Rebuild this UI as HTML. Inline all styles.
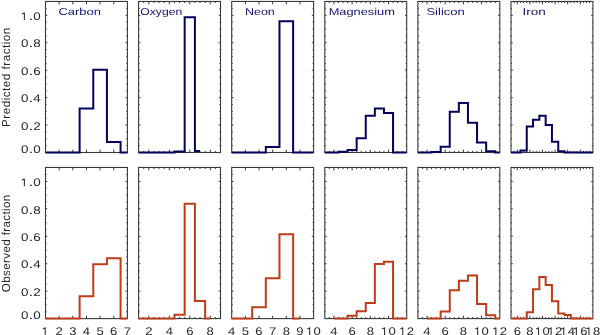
<!DOCTYPE html><html><head><meta charset="utf-8"><style>html,body{margin:0;padding:0;background:#fff;width:600px;height:335px;overflow:hidden}svg{display:block;will-change:transform}text{text-rendering:geometricPrecision;font-family:"Liberation Sans", sans-serif}</style></head><body>
<svg width="600" height="335" viewBox="0 0 600 335">
<rect width="600" height="335" fill="#fff"/>
<path d="M59.15 152.5v-2.9M59.15 1.45v2.9M72.8 152.5v-2.9M72.8 1.45v2.9M86.45 152.5v-2.9M86.45 1.45v2.9M100.1 152.5v-2.9M100.1 1.45v2.9M113.75 152.5v-2.9M113.75 1.45v2.9M45.5 145.64h1.05M127.4 145.64h-1.05M45.5 138.78h1.05M127.4 138.78h-1.05M45.5 131.92h1.05M127.4 131.92h-1.05M45.5 125.06h1.8M127.4 125.06h-1.8M45.5 118.2h1.05M127.4 118.2h-1.05M45.5 111.34h1.05M127.4 111.34h-1.05M45.5 104.48h1.05M127.4 104.48h-1.05M45.5 97.62h1.8M127.4 97.62h-1.8M45.5 90.76h1.05M127.4 90.76h-1.05M45.5 83.9h1.05M127.4 83.9h-1.05M45.5 77.04h1.05M127.4 77.04h-1.05M45.5 70.18h1.8M127.4 70.18h-1.8M45.5 63.32h1.05M127.4 63.32h-1.05M45.5 56.46h1.05M127.4 56.46h-1.05M45.5 49.6h1.05M127.4 49.6h-1.05M45.5 42.74h1.8M127.4 42.74h-1.8M45.5 35.88h1.05M127.4 35.88h-1.05M45.5 29.02h1.05M127.4 29.02h-1.05M45.5 22.16h1.05M127.4 22.16h-1.05M45.5 15.3h1.8M127.4 15.3h-1.8M45.5 8.44h1.05M127.4 8.44h-1.05" stroke="#383838" stroke-width="1" fill="none"/>
<rect x="45.5" y="1.45" width="81.9" height="151.05" fill="none" stroke="#383838" stroke-width="1.1"/>
<path d="M45.5 152.5H52.33V152.5H65.97V152.5H79.62V108.46H93.28V69.63H106.93V142.07H120.58V152.5H127.4" stroke="#02025e" stroke-width="2" fill="none" stroke-linejoin="miter" stroke-linecap="butt"/>
<path d="M59.15 318.6v-2.9M59.15 167.45v2.9M72.8 318.6v-2.9M72.8 167.45v2.9M86.45 318.6v-2.9M86.45 167.45v2.9M100.1 318.6v-2.9M100.1 167.45v2.9M113.75 318.6v-2.9M113.75 167.45v2.9M45.5 311.74h1.05M127.4 311.74h-1.05M45.5 304.88h1.05M127.4 304.88h-1.05M45.5 298.02h1.05M127.4 298.02h-1.05M45.5 291.16h1.8M127.4 291.16h-1.8M45.5 284.3h1.05M127.4 284.3h-1.05M45.5 277.44h1.05M127.4 277.44h-1.05M45.5 270.58h1.05M127.4 270.58h-1.05M45.5 263.72h1.8M127.4 263.72h-1.8M45.5 256.86h1.05M127.4 256.86h-1.05M45.5 250h1.05M127.4 250h-1.05M45.5 243.14h1.05M127.4 243.14h-1.05M45.5 236.28h1.8M127.4 236.28h-1.8M45.5 229.42h1.05M127.4 229.42h-1.05M45.5 222.56h1.05M127.4 222.56h-1.05M45.5 215.7h1.05M127.4 215.7h-1.05M45.5 208.84h1.8M127.4 208.84h-1.8M45.5 201.98h1.05M127.4 201.98h-1.05M45.5 195.12h1.05M127.4 195.12h-1.05M45.5 188.26h1.05M127.4 188.26h-1.05M45.5 181.4h1.8M127.4 181.4h-1.8M45.5 174.54h1.05M127.4 174.54h-1.05" stroke="#383838" stroke-width="1" fill="none"/>
<rect x="45.5" y="167.45" width="81.9" height="151.15" fill="none" stroke="#383838" stroke-width="1.1"/>
<path d="M45.5 318.6H52.33V318.6H65.97V318.6H79.62V296.17H93.28V264.32H106.93V258.14H120.58V318.6H127.4" stroke="#be3c18" stroke-width="2" fill="none" stroke-linejoin="miter" stroke-linecap="butt"/>
<text x="58.54" y="15.2" font-size="10" fill="#141470" textLength="42.3" lengthAdjust="spacingAndGlyphs">Carbon</text>
<path d="M45.2 335V327.57M45.4 327.62L42.9 328.97" stroke="#2a2a2a" stroke-width="1.05" fill="none"/>
<text x="55.51" y="335" font-size="11.1" fill="#2a2a2a" textLength="7.28" lengthAdjust="spacingAndGlyphs">2</text>
<text x="69.16" y="335" font-size="11.1" fill="#2a2a2a" textLength="7.28" lengthAdjust="spacingAndGlyphs">3</text>
<text x="82.81" y="335" font-size="11.1" fill="#2a2a2a" textLength="7.28" lengthAdjust="spacingAndGlyphs">4</text>
<text x="96.46" y="335" font-size="11.1" fill="#2a2a2a" textLength="7.28" lengthAdjust="spacingAndGlyphs">5</text>
<text x="110.11" y="335" font-size="11.1" fill="#2a2a2a" textLength="7.28" lengthAdjust="spacingAndGlyphs">6</text>
<text x="123.76" y="335" font-size="11.1" fill="#2a2a2a" textLength="7.28" lengthAdjust="spacingAndGlyphs">7</text>
<path d="M143.72 152.5v-1.6M143.72 1.45v1.6M148.84 152.5v-2.9M148.84 1.45v2.9M153.96 152.5v-1.6M153.96 1.45v1.6M159.07 152.5v-1.6M159.07 1.45v1.6M164.19 152.5v-1.6M164.19 1.45v1.6M169.31 152.5v-2.9M169.31 1.45v2.9M174.43 152.5v-1.6M174.43 1.45v1.6M179.55 152.5v-1.6M179.55 1.45v1.6M184.67 152.5v-1.6M184.67 1.45v1.6M189.79 152.5v-2.9M189.79 1.45v2.9M194.91 152.5v-1.6M194.91 1.45v1.6M200.03 152.5v-1.6M200.03 1.45v1.6M205.14 152.5v-1.6M205.14 1.45v1.6M210.26 152.5v-2.9M210.26 1.45v2.9M215.38 152.5v-1.6M215.38 1.45v1.6M138.6 145.64h1.05M220.5 145.64h-1.05M138.6 138.78h1.05M220.5 138.78h-1.05M138.6 131.92h1.05M220.5 131.92h-1.05M138.6 125.06h1.8M220.5 125.06h-1.8M138.6 118.2h1.05M220.5 118.2h-1.05M138.6 111.34h1.05M220.5 111.34h-1.05M138.6 104.48h1.05M220.5 104.48h-1.05M138.6 97.62h1.8M220.5 97.62h-1.8M138.6 90.76h1.05M220.5 90.76h-1.05M138.6 83.9h1.05M220.5 83.9h-1.05M138.6 77.04h1.05M220.5 77.04h-1.05M138.6 70.18h1.8M220.5 70.18h-1.8M138.6 63.32h1.05M220.5 63.32h-1.05M138.6 56.46h1.05M220.5 56.46h-1.05M138.6 49.6h1.05M220.5 49.6h-1.05M138.6 42.74h1.8M220.5 42.74h-1.8M138.6 35.88h1.05M220.5 35.88h-1.05M138.6 29.02h1.05M220.5 29.02h-1.05M138.6 22.16h1.05M220.5 22.16h-1.05M138.6 15.3h1.8M220.5 15.3h-1.8M138.6 8.44h1.05M220.5 8.44h-1.05" stroke="#383838" stroke-width="1" fill="none"/>
<rect x="138.6" y="1.45" width="81.9" height="151.05" fill="none" stroke="#383838" stroke-width="1.1"/>
<path d="M138.6 152.5H143.72V152.5H153.96V152.5H164.19V152.5H174.43V151.54H184.67V17.36H194.91V150.99H200.03" stroke="#02025e" stroke-width="2" fill="none" stroke-linejoin="miter" stroke-linecap="butt"/>
<path d="M143.72 318.6v-1.6M143.72 167.45v1.6M148.84 318.6v-2.9M148.84 167.45v2.9M153.96 318.6v-1.6M153.96 167.45v1.6M159.07 318.6v-1.6M159.07 167.45v1.6M164.19 318.6v-1.6M164.19 167.45v1.6M169.31 318.6v-2.9M169.31 167.45v2.9M174.43 318.6v-1.6M174.43 167.45v1.6M179.55 318.6v-1.6M179.55 167.45v1.6M184.67 318.6v-1.6M184.67 167.45v1.6M189.79 318.6v-2.9M189.79 167.45v2.9M194.91 318.6v-1.6M194.91 167.45v1.6M200.03 318.6v-1.6M200.03 167.45v1.6M205.14 318.6v-1.6M205.14 167.45v1.6M210.26 318.6v-2.9M210.26 167.45v2.9M215.38 318.6v-1.6M215.38 167.45v1.6M138.6 311.74h1.05M220.5 311.74h-1.05M138.6 304.88h1.05M220.5 304.88h-1.05M138.6 298.02h1.05M220.5 298.02h-1.05M138.6 291.16h1.8M220.5 291.16h-1.8M138.6 284.3h1.05M220.5 284.3h-1.05M138.6 277.44h1.05M220.5 277.44h-1.05M138.6 270.58h1.05M220.5 270.58h-1.05M138.6 263.72h1.8M220.5 263.72h-1.8M138.6 256.86h1.05M220.5 256.86h-1.05M138.6 250h1.05M220.5 250h-1.05M138.6 243.14h1.05M220.5 243.14h-1.05M138.6 236.28h1.8M220.5 236.28h-1.8M138.6 229.42h1.05M220.5 229.42h-1.05M138.6 222.56h1.05M220.5 222.56h-1.05M138.6 215.7h1.05M220.5 215.7h-1.05M138.6 208.84h1.8M220.5 208.84h-1.8M138.6 201.98h1.05M220.5 201.98h-1.05M138.6 195.12h1.05M220.5 195.12h-1.05M138.6 188.26h1.05M220.5 188.26h-1.05M138.6 181.4h1.8M220.5 181.4h-1.8M138.6 174.54h1.05M220.5 174.54h-1.05" stroke="#383838" stroke-width="1" fill="none"/>
<rect x="138.6" y="167.45" width="81.9" height="151.15" fill="none" stroke="#383838" stroke-width="1.1"/>
<path d="M138.6 318.6H143.72V318.6H153.96V318.6H164.19V318.6H174.43V314.84H184.67V203.63H194.91V300.97H205.14V318.6H210.26" stroke="#be3c18" stroke-width="2" fill="none" stroke-linejoin="miter" stroke-linecap="butt"/>
<text x="140.23" y="15.2" font-size="10" fill="#141470" textLength="42.07" lengthAdjust="spacingAndGlyphs">Oxygen</text>
<text x="145.2" y="335" font-size="11.1" fill="#2a2a2a" textLength="7.28" lengthAdjust="spacingAndGlyphs">2</text>
<text x="165.67" y="335" font-size="11.1" fill="#2a2a2a" textLength="7.28" lengthAdjust="spacingAndGlyphs">4</text>
<text x="186.15" y="335" font-size="11.1" fill="#2a2a2a" textLength="7.28" lengthAdjust="spacingAndGlyphs">6</text>
<text x="206.62" y="335" font-size="11.1" fill="#2a2a2a" textLength="7.28" lengthAdjust="spacingAndGlyphs">8</text>
<path d="M245.35 152.5v-2.9M245.35 1.45v2.9M259 152.5v-2.9M259 1.45v2.9M272.65 152.5v-2.9M272.65 1.45v2.9M286.3 152.5v-2.9M286.3 1.45v2.9M299.95 152.5v-2.9M299.95 1.45v2.9M231.7 145.64h1.05M313.6 145.64h-1.05M231.7 138.78h1.05M313.6 138.78h-1.05M231.7 131.92h1.05M313.6 131.92h-1.05M231.7 125.06h1.8M313.6 125.06h-1.8M231.7 118.2h1.05M313.6 118.2h-1.05M231.7 111.34h1.05M313.6 111.34h-1.05M231.7 104.48h1.05M313.6 104.48h-1.05M231.7 97.62h1.8M313.6 97.62h-1.8M231.7 90.76h1.05M313.6 90.76h-1.05M231.7 83.9h1.05M313.6 83.9h-1.05M231.7 77.04h1.05M313.6 77.04h-1.05M231.7 70.18h1.8M313.6 70.18h-1.8M231.7 63.32h1.05M313.6 63.32h-1.05M231.7 56.46h1.05M313.6 56.46h-1.05M231.7 49.6h1.05M313.6 49.6h-1.05M231.7 42.74h1.8M313.6 42.74h-1.8M231.7 35.88h1.05M313.6 35.88h-1.05M231.7 29.02h1.05M313.6 29.02h-1.05M231.7 22.16h1.05M313.6 22.16h-1.05M231.7 15.3h1.8M313.6 15.3h-1.8M231.7 8.44h1.05M313.6 8.44h-1.05" stroke="#383838" stroke-width="1" fill="none"/>
<rect x="231.7" y="1.45" width="81.9" height="151.05" fill="none" stroke="#383838" stroke-width="1.1"/>
<path d="M231.7 152.5H238.52V152.5H252.18V152.5H265.82V147.01H279.48V21.34H293.12V152.5H306.78V152.5H313.6" stroke="#02025e" stroke-width="2" fill="none" stroke-linejoin="miter" stroke-linecap="butt"/>
<path d="M245.35 318.6v-2.9M245.35 167.45v2.9M259 318.6v-2.9M259 167.45v2.9M272.65 318.6v-2.9M272.65 167.45v2.9M286.3 318.6v-2.9M286.3 167.45v2.9M299.95 318.6v-2.9M299.95 167.45v2.9M231.7 311.74h1.05M313.6 311.74h-1.05M231.7 304.88h1.05M313.6 304.88h-1.05M231.7 298.02h1.05M313.6 298.02h-1.05M231.7 291.16h1.8M313.6 291.16h-1.8M231.7 284.3h1.05M313.6 284.3h-1.05M231.7 277.44h1.05M313.6 277.44h-1.05M231.7 270.58h1.05M313.6 270.58h-1.05M231.7 263.72h1.8M313.6 263.72h-1.8M231.7 256.86h1.05M313.6 256.86h-1.05M231.7 250h1.05M313.6 250h-1.05M231.7 243.14h1.05M313.6 243.14h-1.05M231.7 236.28h1.8M313.6 236.28h-1.8M231.7 229.42h1.05M313.6 229.42h-1.05M231.7 222.56h1.05M313.6 222.56h-1.05M231.7 215.7h1.05M313.6 215.7h-1.05M231.7 208.84h1.8M313.6 208.84h-1.8M231.7 201.98h1.05M313.6 201.98h-1.05M231.7 195.12h1.05M313.6 195.12h-1.05M231.7 188.26h1.05M313.6 188.26h-1.05M231.7 181.4h1.8M313.6 181.4h-1.8M231.7 174.54h1.05M313.6 174.54h-1.05" stroke="#383838" stroke-width="1" fill="none"/>
<rect x="231.7" y="167.45" width="81.9" height="151.15" fill="none" stroke="#383838" stroke-width="1.1"/>
<path d="M231.7 318.6H238.52V318.6H252.18V307.15H265.82V278.18H279.48V234.25H293.12V318.6H299.95" stroke="#be3c18" stroke-width="2" fill="none" stroke-linejoin="miter" stroke-linecap="butt"/>
<text x="244.98" y="15.2" font-size="10" fill="#141470" textLength="29.83" lengthAdjust="spacingAndGlyphs">Neon</text>
<text x="228.06" y="335" font-size="11.1" fill="#2a2a2a" textLength="7.28" lengthAdjust="spacingAndGlyphs">4</text>
<text x="241.71" y="335" font-size="11.1" fill="#2a2a2a" textLength="7.28" lengthAdjust="spacingAndGlyphs">5</text>
<text x="255.36" y="335" font-size="11.1" fill="#2a2a2a" textLength="7.28" lengthAdjust="spacingAndGlyphs">6</text>
<text x="269.01" y="335" font-size="11.1" fill="#2a2a2a" textLength="7.28" lengthAdjust="spacingAndGlyphs">7</text>
<text x="282.66" y="335" font-size="11.1" fill="#2a2a2a" textLength="7.28" lengthAdjust="spacingAndGlyphs">8</text>
<text x="296.31" y="335" font-size="11.1" fill="#2a2a2a" textLength="7.28" lengthAdjust="spacingAndGlyphs">9</text>
<path d="M309.66 335V327.57M309.86 327.62L307.36 328.97" stroke="#2a2a2a" stroke-width="1.05" fill="none"/><text x="313.6" y="335" font-size="11.1" fill="#2a2a2a" textLength="7.28" lengthAdjust="spacingAndGlyphs">0</text>
<path d="M329.35 152.5v-1.6M329.35 1.45v1.6M333.9 152.5v-2.9M333.9 1.45v2.9M338.45 152.5v-1.6M338.45 1.45v1.6M343 152.5v-1.6M343 1.45v1.6M347.55 152.5v-1.6M347.55 1.45v1.6M352.1 152.5v-2.9M352.1 1.45v2.9M356.65 152.5v-1.6M356.65 1.45v1.6M361.2 152.5v-1.6M361.2 1.45v1.6M365.75 152.5v-1.6M365.75 1.45v1.6M370.3 152.5v-2.9M370.3 1.45v2.9M374.85 152.5v-1.6M374.85 1.45v1.6M379.4 152.5v-1.6M379.4 1.45v1.6M383.95 152.5v-1.6M383.95 1.45v1.6M388.5 152.5v-2.9M388.5 1.45v2.9M393.05 152.5v-1.6M393.05 1.45v1.6M397.6 152.5v-1.6M397.6 1.45v1.6M402.15 152.5v-1.6M402.15 1.45v1.6M324.8 145.64h1.05M406.7 145.64h-1.05M324.8 138.78h1.05M406.7 138.78h-1.05M324.8 131.92h1.05M406.7 131.92h-1.05M324.8 125.06h1.8M406.7 125.06h-1.8M324.8 118.2h1.05M406.7 118.2h-1.05M324.8 111.34h1.05M406.7 111.34h-1.05M324.8 104.48h1.05M406.7 104.48h-1.05M324.8 97.62h1.8M406.7 97.62h-1.8M324.8 90.76h1.05M406.7 90.76h-1.05M324.8 83.9h1.05M406.7 83.9h-1.05M324.8 77.04h1.05M406.7 77.04h-1.05M324.8 70.18h1.8M406.7 70.18h-1.8M324.8 63.32h1.05M406.7 63.32h-1.05M324.8 56.46h1.05M406.7 56.46h-1.05M324.8 49.6h1.05M406.7 49.6h-1.05M324.8 42.74h1.8M406.7 42.74h-1.8M324.8 35.88h1.05M406.7 35.88h-1.05M324.8 29.02h1.05M406.7 29.02h-1.05M324.8 22.16h1.05M406.7 22.16h-1.05M324.8 15.3h1.8M406.7 15.3h-1.8M324.8 8.44h1.05M406.7 8.44h-1.05" stroke="#383838" stroke-width="1" fill="none"/>
<rect x="324.8" y="1.45" width="81.9" height="151.05" fill="none" stroke="#383838" stroke-width="1.1"/>
<path d="M324.8 152.5H329.35V152.5H338.45V151.81H347.55V150.03H356.65V138.37H365.75V115.87H374.85V108.46H383.95V112.99H393.05V152.5H402.15V152.5H406.7" stroke="#02025e" stroke-width="2" fill="none" stroke-linejoin="miter" stroke-linecap="butt"/>
<path d="M329.35 318.6v-1.6M329.35 167.45v1.6M333.9 318.6v-2.9M333.9 167.45v2.9M338.45 318.6v-1.6M338.45 167.45v1.6M343 318.6v-1.6M343 167.45v1.6M347.55 318.6v-1.6M347.55 167.45v1.6M352.1 318.6v-2.9M352.1 167.45v2.9M356.65 318.6v-1.6M356.65 167.45v1.6M361.2 318.6v-1.6M361.2 167.45v1.6M365.75 318.6v-1.6M365.75 167.45v1.6M370.3 318.6v-2.9M370.3 167.45v2.9M374.85 318.6v-1.6M374.85 167.45v1.6M379.4 318.6v-1.6M379.4 167.45v1.6M383.95 318.6v-1.6M383.95 167.45v1.6M388.5 318.6v-2.9M388.5 167.45v2.9M393.05 318.6v-1.6M393.05 167.45v1.6M397.6 318.6v-1.6M397.6 167.45v1.6M402.15 318.6v-1.6M402.15 167.45v1.6M324.8 311.74h1.05M406.7 311.74h-1.05M324.8 304.88h1.05M406.7 304.88h-1.05M324.8 298.02h1.05M406.7 298.02h-1.05M324.8 291.16h1.8M406.7 291.16h-1.8M324.8 284.3h1.05M406.7 284.3h-1.05M324.8 277.44h1.05M406.7 277.44h-1.05M324.8 270.58h1.05M406.7 270.58h-1.05M324.8 263.72h1.8M406.7 263.72h-1.8M324.8 256.86h1.05M406.7 256.86h-1.05M324.8 250h1.05M406.7 250h-1.05M324.8 243.14h1.05M406.7 243.14h-1.05M324.8 236.28h1.8M406.7 236.28h-1.8M324.8 229.42h1.05M406.7 229.42h-1.05M324.8 222.56h1.05M406.7 222.56h-1.05M324.8 215.7h1.05M406.7 215.7h-1.05M324.8 208.84h1.8M406.7 208.84h-1.8M324.8 201.98h1.05M406.7 201.98h-1.05M324.8 195.12h1.05M406.7 195.12h-1.05M324.8 188.26h1.05M406.7 188.26h-1.05M324.8 181.4h1.8M406.7 181.4h-1.8M324.8 174.54h1.05M406.7 174.54h-1.05" stroke="#383838" stroke-width="1" fill="none"/>
<rect x="324.8" y="167.45" width="81.9" height="151.15" fill="none" stroke="#383838" stroke-width="1.1"/>
<path d="M333.9 318.6H338.45V318.6H347.55V315.8H356.65V311.13H365.75V302.9H374.85V263.9H383.95V261.84H393.05V318.6H402.15V318.6H406.7" stroke="#be3c18" stroke-width="2" fill="none" stroke-linejoin="miter" stroke-linecap="butt"/>
<text x="328.65" y="15.2" font-size="10" fill="#141470" textLength="66.3" lengthAdjust="spacingAndGlyphs">Magnesium</text>
<text x="330.26" y="335" font-size="11.1" fill="#2a2a2a" textLength="7.28" lengthAdjust="spacingAndGlyphs">4</text>
<text x="348.46" y="335" font-size="11.1" fill="#2a2a2a" textLength="7.28" lengthAdjust="spacingAndGlyphs">6</text>
<text x="366.66" y="335" font-size="11.1" fill="#2a2a2a" textLength="7.28" lengthAdjust="spacingAndGlyphs">8</text>
<path d="M384.56 335V327.57M384.76 327.62L382.26 328.97" stroke="#2a2a2a" stroke-width="1.05" fill="none"/><text x="388.5" y="335" font-size="11.1" fill="#2a2a2a" textLength="7.28" lengthAdjust="spacingAndGlyphs">0</text>
<path d="M402.76 335V327.57M402.96 327.62L400.46 328.97" stroke="#2a2a2a" stroke-width="1.05" fill="none"/><text x="406.7" y="335" font-size="11.1" fill="#2a2a2a" textLength="7.28" lengthAdjust="spacingAndGlyphs">2</text>
<path d="M422.45 152.5v-1.6M422.45 1.45v1.6M427 152.5v-2.9M427 1.45v2.9M431.55 152.5v-1.6M431.55 1.45v1.6M436.1 152.5v-1.6M436.1 1.45v1.6M440.65 152.5v-1.6M440.65 1.45v1.6M445.2 152.5v-2.9M445.2 1.45v2.9M449.75 152.5v-1.6M449.75 1.45v1.6M454.3 152.5v-1.6M454.3 1.45v1.6M458.85 152.5v-1.6M458.85 1.45v1.6M463.4 152.5v-2.9M463.4 1.45v2.9M467.95 152.5v-1.6M467.95 1.45v1.6M472.5 152.5v-1.6M472.5 1.45v1.6M477.05 152.5v-1.6M477.05 1.45v1.6M481.6 152.5v-2.9M481.6 1.45v2.9M486.15 152.5v-1.6M486.15 1.45v1.6M490.7 152.5v-1.6M490.7 1.45v1.6M495.25 152.5v-1.6M495.25 1.45v1.6M417.9 145.64h1.05M499.8 145.64h-1.05M417.9 138.78h1.05M499.8 138.78h-1.05M417.9 131.92h1.05M499.8 131.92h-1.05M417.9 125.06h1.8M499.8 125.06h-1.8M417.9 118.2h1.05M499.8 118.2h-1.05M417.9 111.34h1.05M499.8 111.34h-1.05M417.9 104.48h1.05M499.8 104.48h-1.05M417.9 97.62h1.8M499.8 97.62h-1.8M417.9 90.76h1.05M499.8 90.76h-1.05M417.9 83.9h1.05M499.8 83.9h-1.05M417.9 77.04h1.05M499.8 77.04h-1.05M417.9 70.18h1.8M499.8 70.18h-1.8M417.9 63.32h1.05M499.8 63.32h-1.05M417.9 56.46h1.05M499.8 56.46h-1.05M417.9 49.6h1.05M499.8 49.6h-1.05M417.9 42.74h1.8M499.8 42.74h-1.8M417.9 35.88h1.05M499.8 35.88h-1.05M417.9 29.02h1.05M499.8 29.02h-1.05M417.9 22.16h1.05M499.8 22.16h-1.05M417.9 15.3h1.8M499.8 15.3h-1.8M417.9 8.44h1.05M499.8 8.44h-1.05" stroke="#383838" stroke-width="1" fill="none"/>
<rect x="417.9" y="1.45" width="81.9" height="151.05" fill="none" stroke="#383838" stroke-width="1.1"/>
<path d="M417.9 152.5H422.45V152.5H431.55V151.95H440.65V146.74H449.75V111.75H458.85V103.11H467.95V122.73H477.05V142.48H486.15V151.13H495.25V152.5H499.8" stroke="#02025e" stroke-width="2" fill="none" stroke-linejoin="miter" stroke-linecap="butt"/>
<path d="M422.45 318.6v-1.6M422.45 167.45v1.6M427 318.6v-2.9M427 167.45v2.9M431.55 318.6v-1.6M431.55 167.45v1.6M436.1 318.6v-1.6M436.1 167.45v1.6M440.65 318.6v-1.6M440.65 167.45v1.6M445.2 318.6v-2.9M445.2 167.45v2.9M449.75 318.6v-1.6M449.75 167.45v1.6M454.3 318.6v-1.6M454.3 167.45v1.6M458.85 318.6v-1.6M458.85 167.45v1.6M463.4 318.6v-2.9M463.4 167.45v2.9M467.95 318.6v-1.6M467.95 167.45v1.6M472.5 318.6v-1.6M472.5 167.45v1.6M477.05 318.6v-1.6M477.05 167.45v1.6M481.6 318.6v-2.9M481.6 167.45v2.9M486.15 318.6v-1.6M486.15 167.45v1.6M490.7 318.6v-1.6M490.7 167.45v1.6M495.25 318.6v-1.6M495.25 167.45v1.6M417.9 311.74h1.05M499.8 311.74h-1.05M417.9 304.88h1.05M499.8 304.88h-1.05M417.9 298.02h1.05M499.8 298.02h-1.05M417.9 291.16h1.8M499.8 291.16h-1.8M417.9 284.3h1.05M499.8 284.3h-1.05M417.9 277.44h1.05M499.8 277.44h-1.05M417.9 270.58h1.05M499.8 270.58h-1.05M417.9 263.72h1.8M499.8 263.72h-1.8M417.9 256.86h1.05M499.8 256.86h-1.05M417.9 250h1.05M499.8 250h-1.05M417.9 243.14h1.05M499.8 243.14h-1.05M417.9 236.28h1.8M499.8 236.28h-1.8M417.9 229.42h1.05M499.8 229.42h-1.05M417.9 222.56h1.05M499.8 222.56h-1.05M417.9 215.7h1.05M499.8 215.7h-1.05M417.9 208.84h1.8M499.8 208.84h-1.8M417.9 201.98h1.05M499.8 201.98h-1.05M417.9 195.12h1.05M499.8 195.12h-1.05M417.9 188.26h1.05M499.8 188.26h-1.05M417.9 181.4h1.8M499.8 181.4h-1.8M417.9 174.54h1.05M499.8 174.54h-1.05" stroke="#383838" stroke-width="1" fill="none"/>
<rect x="417.9" y="167.45" width="81.9" height="151.15" fill="none" stroke="#383838" stroke-width="1.1"/>
<path d="M427 318.6H431.55V318.6H440.65V311.41H449.75V290.13H458.85V280.79H467.95V275.57H477.05V304H486.15V315.25H495.25V318.6H499.8" stroke="#be3c18" stroke-width="2" fill="none" stroke-linejoin="miter" stroke-linecap="butt"/>
<text x="426.41" y="15.2" font-size="10" fill="#141470" textLength="38.44" lengthAdjust="spacingAndGlyphs">Silicon</text>
<text x="423.36" y="335" font-size="11.1" fill="#2a2a2a" textLength="7.28" lengthAdjust="spacingAndGlyphs">4</text>
<text x="441.56" y="335" font-size="11.1" fill="#2a2a2a" textLength="7.28" lengthAdjust="spacingAndGlyphs">6</text>
<text x="459.76" y="335" font-size="11.1" fill="#2a2a2a" textLength="7.28" lengthAdjust="spacingAndGlyphs">8</text>
<path d="M477.66 335V327.57M477.86 327.62L475.36 328.97" stroke="#2a2a2a" stroke-width="1.05" fill="none"/><text x="481.6" y="335" font-size="11.1" fill="#2a2a2a" textLength="7.28" lengthAdjust="spacingAndGlyphs">0</text>
<path d="M495.86 335V327.57M496.06 327.62L493.56 328.97" stroke="#2a2a2a" stroke-width="1.05" fill="none"/><text x="499.8" y="335" font-size="11.1" fill="#2a2a2a" textLength="7.28" lengthAdjust="spacingAndGlyphs">2</text>
<path d="M514.15 152.5v-1.6M514.15 1.45v1.6M517.3 152.5v-2.9M517.3 1.45v2.9M520.45 152.5v-1.6M520.45 1.45v1.6M523.6 152.5v-1.6M523.6 1.45v1.6M526.75 152.5v-1.6M526.75 1.45v1.6M529.9 152.5v-2.9M529.9 1.45v2.9M533.05 152.5v-1.6M533.05 1.45v1.6M536.2 152.5v-1.6M536.2 1.45v1.6M539.35 152.5v-1.6M539.35 1.45v1.6M542.5 152.5v-2.9M542.5 1.45v2.9M545.65 152.5v-1.6M545.65 1.45v1.6M548.8 152.5v-1.6M548.8 1.45v1.6M551.95 152.5v-1.6M551.95 1.45v1.6M555.1 152.5v-2.9M555.1 1.45v2.9M558.25 152.5v-1.6M558.25 1.45v1.6M561.4 152.5v-1.6M561.4 1.45v1.6M564.55 152.5v-1.6M564.55 1.45v1.6M567.7 152.5v-2.9M567.7 1.45v2.9M570.85 152.5v-1.6M570.85 1.45v1.6M574 152.5v-1.6M574 1.45v1.6M577.15 152.5v-1.6M577.15 1.45v1.6M580.3 152.5v-2.9M580.3 1.45v2.9M583.45 152.5v-1.6M583.45 1.45v1.6M586.6 152.5v-1.6M586.6 1.45v1.6M589.75 152.5v-1.6M589.75 1.45v1.6M511 145.64h1.05M592.9 145.64h-1.05M511 138.78h1.05M592.9 138.78h-1.05M511 131.92h1.05M592.9 131.92h-1.05M511 125.06h1.8M592.9 125.06h-1.8M511 118.2h1.05M592.9 118.2h-1.05M511 111.34h1.05M592.9 111.34h-1.05M511 104.48h1.05M592.9 104.48h-1.05M511 97.62h1.8M592.9 97.62h-1.8M511 90.76h1.05M592.9 90.76h-1.05M511 83.9h1.05M592.9 83.9h-1.05M511 77.04h1.05M592.9 77.04h-1.05M511 70.18h1.8M592.9 70.18h-1.8M511 63.32h1.05M592.9 63.32h-1.05M511 56.46h1.05M592.9 56.46h-1.05M511 49.6h1.05M592.9 49.6h-1.05M511 42.74h1.8M592.9 42.74h-1.8M511 35.88h1.05M592.9 35.88h-1.05M511 29.02h1.05M592.9 29.02h-1.05M511 22.16h1.05M592.9 22.16h-1.05M511 15.3h1.8M592.9 15.3h-1.8M511 8.44h1.05M592.9 8.44h-1.05" stroke="#383838" stroke-width="1" fill="none"/>
<rect x="511" y="1.45" width="81.9" height="151.05" fill="none" stroke="#383838" stroke-width="1.1"/>
<path d="M511 152.5H514.15V152.5H520.45V150.58H526.75V126.43H533.05V119.71H539.35V115.73H545.65V125.06H551.95V141.8H558.25V151.13H564.55V152.5H570.85V152.5H577.15V152.5H583.45V152.5H589.75V152.5H592.9" stroke="#02025e" stroke-width="2" fill="none" stroke-linejoin="miter" stroke-linecap="butt"/>
<path d="M514.15 318.6v-1.6M514.15 167.45v1.6M517.3 318.6v-2.9M517.3 167.45v2.9M520.45 318.6v-1.6M520.45 167.45v1.6M523.6 318.6v-1.6M523.6 167.45v1.6M526.75 318.6v-1.6M526.75 167.45v1.6M529.9 318.6v-2.9M529.9 167.45v2.9M533.05 318.6v-1.6M533.05 167.45v1.6M536.2 318.6v-1.6M536.2 167.45v1.6M539.35 318.6v-1.6M539.35 167.45v1.6M542.5 318.6v-2.9M542.5 167.45v2.9M545.65 318.6v-1.6M545.65 167.45v1.6M548.8 318.6v-1.6M548.8 167.45v1.6M551.95 318.6v-1.6M551.95 167.45v1.6M555.1 318.6v-2.9M555.1 167.45v2.9M558.25 318.6v-1.6M558.25 167.45v1.6M561.4 318.6v-1.6M561.4 167.45v1.6M564.55 318.6v-1.6M564.55 167.45v1.6M567.7 318.6v-2.9M567.7 167.45v2.9M570.85 318.6v-1.6M570.85 167.45v1.6M574 318.6v-1.6M574 167.45v1.6M577.15 318.6v-1.6M577.15 167.45v1.6M580.3 318.6v-2.9M580.3 167.45v2.9M583.45 318.6v-1.6M583.45 167.45v1.6M586.6 318.6v-1.6M586.6 167.45v1.6M589.75 318.6v-1.6M589.75 167.45v1.6M511 311.74h1.05M592.9 311.74h-1.05M511 304.88h1.05M592.9 304.88h-1.05M511 298.02h1.05M592.9 298.02h-1.05M511 291.16h1.8M592.9 291.16h-1.8M511 284.3h1.05M592.9 284.3h-1.05M511 277.44h1.05M592.9 277.44h-1.05M511 270.58h1.05M592.9 270.58h-1.05M511 263.72h1.8M592.9 263.72h-1.8M511 256.86h1.05M592.9 256.86h-1.05M511 250h1.05M592.9 250h-1.05M511 243.14h1.05M592.9 243.14h-1.05M511 236.28h1.8M592.9 236.28h-1.8M511 229.42h1.05M592.9 229.42h-1.05M511 222.56h1.05M592.9 222.56h-1.05M511 215.7h1.05M592.9 215.7h-1.05M511 208.84h1.8M592.9 208.84h-1.8M511 201.98h1.05M592.9 201.98h-1.05M511 195.12h1.05M592.9 195.12h-1.05M511 188.26h1.05M592.9 188.26h-1.05M511 181.4h1.8M592.9 181.4h-1.8M511 174.54h1.05M592.9 174.54h-1.05" stroke="#383838" stroke-width="1" fill="none"/>
<rect x="511" y="167.45" width="81.9" height="151.15" fill="none" stroke="#383838" stroke-width="1.1"/>
<path d="M511 318.6H514.15V318.6H520.45V318.6H526.75V312.37H533.05V289.17H539.35V277.08H545.65V284.91H551.95V301.25H558.25V313.61H564.55V314.98H570.85V318.6H577.15V318.6H583.45V318.6H589.75V318.6H592.9" stroke="#be3c18" stroke-width="2" fill="none" stroke-linejoin="miter" stroke-linecap="butt"/>
<text x="522.55" y="15.2" font-size="10" fill="#141470" textLength="23.33" lengthAdjust="spacingAndGlyphs">Iron</text>
<text x="513.66" y="335" font-size="11.1" fill="#2a2a2a" textLength="7.28" lengthAdjust="spacingAndGlyphs">6</text>
<text x="526.26" y="335" font-size="11.1" fill="#2a2a2a" textLength="7.28" lengthAdjust="spacingAndGlyphs">8</text>
<path d="M538.56 335V327.57M538.76 327.62L536.26 328.97" stroke="#2a2a2a" stroke-width="1.05" fill="none"/><text x="542.5" y="335" font-size="11.1" fill="#2a2a2a" textLength="7.28" lengthAdjust="spacingAndGlyphs">0</text>
<path d="M551.16 335V327.57M551.36 327.62L548.86 328.97" stroke="#2a2a2a" stroke-width="1.05" fill="none"/><text x="555.1" y="335" font-size="11.1" fill="#2a2a2a" textLength="7.28" lengthAdjust="spacingAndGlyphs">2</text>
<path d="M563.76 335V327.57M563.96 327.62L561.46 328.97" stroke="#2a2a2a" stroke-width="1.05" fill="none"/><text x="567.7" y="335" font-size="11.1" fill="#2a2a2a" textLength="7.28" lengthAdjust="spacingAndGlyphs">4</text>
<path d="M576.36 335V327.57M576.56 327.62L574.06 328.97" stroke="#2a2a2a" stroke-width="1.05" fill="none"/><text x="580.3" y="335" font-size="11.1" fill="#2a2a2a" textLength="7.28" lengthAdjust="spacingAndGlyphs">6</text>
<path d="M588.96 335V327.57M589.16 327.62L586.66 328.97" stroke="#2a2a2a" stroke-width="1.05" fill="none"/><text x="592.9" y="335" font-size="11.1" fill="#2a2a2a" textLength="7.28" lengthAdjust="spacingAndGlyphs">8</text>
<path d="M24.38 20.03V12.67M24.58 12.72L22.08 14.07" stroke="#2a2a2a" stroke-width="1.05" fill="none"/><text x="28.41" y="20.03" font-size="11" fill="#2a2a2a" textLength="4.83" lengthAdjust="spacingAndGlyphs">.</text><text x="33.24" y="20.03" font-size="11" fill="#2a2a2a" textLength="7.46" lengthAdjust="spacingAndGlyphs">0</text>
<text x="20.95" y="47.47" font-size="11" fill="#2a2a2a" textLength="7.46" lengthAdjust="spacingAndGlyphs">0</text><text x="28.41" y="47.47" font-size="11" fill="#2a2a2a" textLength="4.83" lengthAdjust="spacingAndGlyphs">.</text><text x="33.24" y="47.47" font-size="11" fill="#2a2a2a" textLength="7.46" lengthAdjust="spacingAndGlyphs">8</text>
<text x="20.95" y="74.91" font-size="11" fill="#2a2a2a" textLength="7.46" lengthAdjust="spacingAndGlyphs">0</text><text x="28.41" y="74.91" font-size="11" fill="#2a2a2a" textLength="4.83" lengthAdjust="spacingAndGlyphs">.</text><text x="33.24" y="74.91" font-size="11" fill="#2a2a2a" textLength="7.46" lengthAdjust="spacingAndGlyphs">6</text>
<text x="20.95" y="102.35" font-size="11" fill="#2a2a2a" textLength="7.46" lengthAdjust="spacingAndGlyphs">0</text><text x="28.41" y="102.35" font-size="11" fill="#2a2a2a" textLength="4.83" lengthAdjust="spacingAndGlyphs">.</text><text x="33.24" y="102.35" font-size="11" fill="#2a2a2a" textLength="7.46" lengthAdjust="spacingAndGlyphs">4</text>
<text x="20.95" y="129.79" font-size="11" fill="#2a2a2a" textLength="7.46" lengthAdjust="spacingAndGlyphs">0</text><text x="28.41" y="129.79" font-size="11" fill="#2a2a2a" textLength="4.83" lengthAdjust="spacingAndGlyphs">.</text><text x="33.24" y="129.79" font-size="11" fill="#2a2a2a" textLength="7.46" lengthAdjust="spacingAndGlyphs">2</text>
<text x="20.95" y="152.58" font-size="11" fill="#2a2a2a" textLength="7.46" lengthAdjust="spacingAndGlyphs">0</text><text x="28.41" y="152.58" font-size="11" fill="#2a2a2a" textLength="4.83" lengthAdjust="spacingAndGlyphs">.</text><text x="33.24" y="152.58" font-size="11" fill="#2a2a2a" textLength="7.46" lengthAdjust="spacingAndGlyphs">0</text>
<path d="M24.38 186.13V178.77M24.58 178.82L22.08 180.17" stroke="#2a2a2a" stroke-width="1.05" fill="none"/><text x="28.41" y="186.13" font-size="11" fill="#2a2a2a" textLength="4.83" lengthAdjust="spacingAndGlyphs">.</text><text x="33.24" y="186.13" font-size="11" fill="#2a2a2a" textLength="7.46" lengthAdjust="spacingAndGlyphs">0</text>
<text x="20.95" y="213.57" font-size="11" fill="#2a2a2a" textLength="7.46" lengthAdjust="spacingAndGlyphs">0</text><text x="28.41" y="213.57" font-size="11" fill="#2a2a2a" textLength="4.83" lengthAdjust="spacingAndGlyphs">.</text><text x="33.24" y="213.57" font-size="11" fill="#2a2a2a" textLength="7.46" lengthAdjust="spacingAndGlyphs">8</text>
<text x="20.95" y="241.01" font-size="11" fill="#2a2a2a" textLength="7.46" lengthAdjust="spacingAndGlyphs">0</text><text x="28.41" y="241.01" font-size="11" fill="#2a2a2a" textLength="4.83" lengthAdjust="spacingAndGlyphs">.</text><text x="33.24" y="241.01" font-size="11" fill="#2a2a2a" textLength="7.46" lengthAdjust="spacingAndGlyphs">6</text>
<text x="20.95" y="268.45" font-size="11" fill="#2a2a2a" textLength="7.46" lengthAdjust="spacingAndGlyphs">0</text><text x="28.41" y="268.45" font-size="11" fill="#2a2a2a" textLength="4.83" lengthAdjust="spacingAndGlyphs">.</text><text x="33.24" y="268.45" font-size="11" fill="#2a2a2a" textLength="7.46" lengthAdjust="spacingAndGlyphs">4</text>
<text x="20.95" y="295.89" font-size="11" fill="#2a2a2a" textLength="7.46" lengthAdjust="spacingAndGlyphs">0</text><text x="28.41" y="295.89" font-size="11" fill="#2a2a2a" textLength="4.83" lengthAdjust="spacingAndGlyphs">.</text><text x="33.24" y="295.89" font-size="11" fill="#2a2a2a" textLength="7.46" lengthAdjust="spacingAndGlyphs">2</text>
<text x="20.95" y="318.73" font-size="11" fill="#2a2a2a" textLength="7.46" lengthAdjust="spacingAndGlyphs">0</text><text x="28.41" y="318.73" font-size="11" fill="#2a2a2a" textLength="4.83" lengthAdjust="spacingAndGlyphs">.</text><text x="33.24" y="318.73" font-size="11" fill="#2a2a2a" textLength="7.46" lengthAdjust="spacingAndGlyphs">0</text>
<text transform="translate(9.8,126.95) rotate(-90)" font-size="11.6" fill="#2a2a2a" textLength="99.2" lengthAdjust="spacing">Predicted fraction</text>
<text transform="translate(9.8,292.15) rotate(-90)" font-size="11.6" fill="#2a2a2a" textLength="97.45" lengthAdjust="spacing">Observed fraction</text>
</svg></body></html>
